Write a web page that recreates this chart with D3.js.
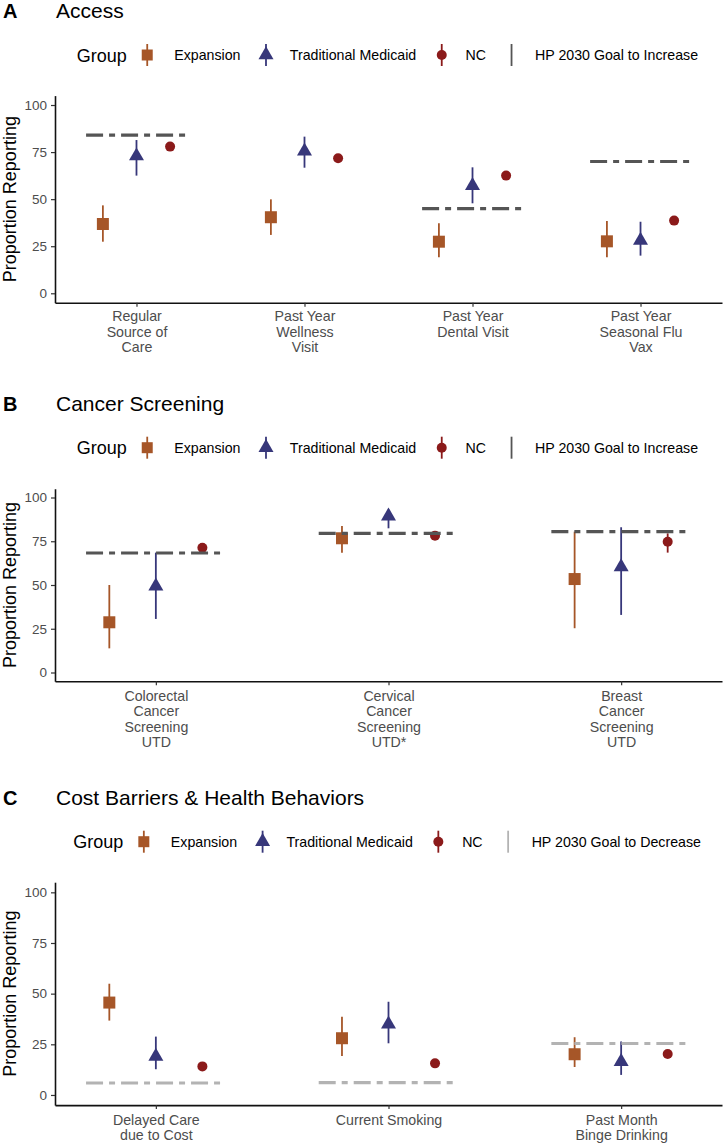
<!DOCTYPE html>
<html>
<head>
<meta charset="utf-8">
<script src="https://cdn.jsdelivr.net/npm/d3@7"></script>
<style>
  html, body { margin: 0; padding: 0; background: #ffffff; }
  svg { display: block; font-family: "Liberation Sans", Arial, Helvetica, sans-serif; }
</style>
</head>
<body>
<svg id="chart" width="723" height="1144"></svg>
<script>
// ---------------- DATA ----------------
const groups = ["Expansion", "Traditional Medicaid", "NC"];
const yTicks = [0, 25, 50, 75, 100];

// Panel A: Access
const accessCategories = ["Regular\nSource of\nCare", "Past Year\nWellness\nVisit", "Past Year\nDental Visit", "Past Year\nSeasonal Flu\nVax"];
const accessExpansion = [36.8, 40.4, 27.4, 27.6];
const accessExpansionLow = [27.4, 31.0, 19.1, 19.1];
const accessExpansionHigh = [46.7, 49.9, 37.2, 38.4];
const accessTraditional = [72.9, 75.5, 57.2, 28.1];
const accessTraditionalLow = [62.5, 66.7, 47.8, 20.0];
const accessTraditionalHigh = [81.4, 83.2, 66.9, 38.0];
const accessNC = [77.9, 71.7, 62.5, 38.6];
const accessNCLow = [76.6, 70.5, 61.3, 37.4];
const accessNCHigh = [79.2, 72.9, 63.7, 39.8];
const accessGoal = [84.0, null, 45.0, 70.0];

// Panel B: Cancer Screening
const cancerCategories = ["Colorectal\nCancer\nScreening\nUTD", "Cervical\nCancer\nScreening\nUTD*", "Breast\nCancer\nScreening\nUTD"];
const cancerExpansion = [28.7, 76.7, 53.4];
const cancerExpansionLow = [13.8, 68.5, 25.3];
const cancerExpansionHigh = [50.0, 83.7, 80.5];
const cancerTraditional = [49.4, 89.4, 60.4];
const cancerTraditionalLow = [30.6, 82.4, 32.9];
const cancerTraditionalHigh = [68.5, 93.0, 83.0];
const cancerNC = [71.3, 78.2, 74.7];
const cancerNCLow = [69.0, 77.0, 68.5];
const cancerNCHigh = [73.5, 79.4, 79.5];
const cancerGoal = [68.3, 79.5, 80.5];

// Panel C: Cost Barriers & Health Behaviors
const costCategories = ["Delayed Care\ndue to Cost", "Current Smoking", "Past Month\nBinge Drinking"];
const costExpansion = [45.6, 28.0, 20.1];
const costExpansionLow = [36.7, 19.2, 13.8];
const costExpansionHigh = [54.9, 38.6, 28.5];
const costTraditional = [19.0, 34.9, 16.4];
const costTraditionalLow = [12.7, 25.5, 9.9];
const costTraditionalHigh = [28.8, 46.0, 26.4];
const costNC = [14.1, 15.6, 20.2];
const costNCLow = [13.0, 14.6, 19.2];
const costNCHigh = [15.2, 16.6, 21.2];
const costGoal = [5.9, 6.1, 25.4];

// ---------------- STYLE ----------------
const groupColors = { "Expansion": "#A65628", "Traditional Medicaid": "#37377A", "NC": "#8B1A1A" };
const dodge = { "Expansion": -0.2, "Traditional Medicaid": 0, "NC": 0.2 };

const svg = d3.select("#chart");

function symbolPath(group, size) {
  if (group === "Expansion") {
    const h = size / 2;
    return `M${-h},${-h}H${h}V${h}H${-h}Z`;
  } else if (group === "Traditional Medicaid") {
    const s = size, hgt = s * Math.sqrt(3) / 2;
    return `M0,${-2 * hgt / 3}L${s / 2},${hgt / 3}L${-s / 2},${hgt / 3}Z`;
  } else {
    const r = size / 2;
    return `M${r},0A${r},${r} 0 1,1 ${-r},0A${r},${r} 0 1,1 ${r},0Z`;
  }
}
const markSize = { "Expansion": 12, "Traditional Medicaid": 15, "NC": 10 };

function drawPanel(p) {
  const g = svg.append("g");

  // Title
  g.append("text").attr("x", 3).attr("y", p.titleY)
    .attr("font-size", 20).attr("font-weight", "bold").attr("fill", "#000").text(p.letter);
  g.append("text").attr("x", 56).attr("y", p.titleY)
    .attr("font-size", 21).attr("fill", "#000").text(p.title);

  // Legend
  const lg = g.append("g");
  let cx = p.legendStart;
  const ly = p.legendY;
  const grpT = lg.append("text").attr("x", cx).attr("y", ly + 6.5).attr("font-size", 18).attr("fill", "#000").text("Group");
  cx += grpT.node().getComputedTextLength() + 20.5;
  groups.forEach((grp, i) => {
    const k = lg.append("g").attr("transform", `translate(${cx},${ly})`);
    k.append("line").attr("x1", 0).attr("x2", 0).attr("y1", -11).attr("y2", 11)
      .attr("stroke", groupColors[grp]).attr("stroke-width", 1.8);
    const ks = grp === "Expansion" ? 11 : (grp === "NC" ? 10 : 15);
    k.append("path").attr("d", symbolPath(grp, ks)).attr("fill", groupColors[grp]);
    cx += (i === 0 ? 27 : 23.8);
    const t = lg.append("text").attr("x", cx).attr("y", ly + 5).attr("font-size", 14.2).attr("fill", "#000").text(grp);
    cx += t.node().getComputedTextLength() + 25.5;
  });
  lg.append("line").attr("x1", cx).attr("x2", cx).attr("y1", ly - 11).attr("y2", ly + 11)
    .attr("stroke", p.goalColor).attr("stroke-width", 1.8);
  cx += 23.5;
  lg.append("text").attr("x", cx).attr("y", ly + 5).attr("font-size", 14.2).attr("fill", "#000").text(p.goalLabel);

  // Scales
  const x = d3.scalePoint().domain(p.categories).range([55, 722]).padding(p.pad);
  const step = x.step();
  const y = d3.scaleLinear().domain([-5, 105]).range([p.yBottom, p.yTop]);

  // Axes
  const yAxis = g.append("g").attr("transform", "translate(55,0)")
    .call(d3.axisLeft(y).tickValues(yTicks).tickSize(4).tickSizeOuter(0).tickPadding(4));
  yAxis.select(".domain").attr("stroke", "#111").attr("stroke-width", 1.6);
  yAxis.selectAll(".tick line").attr("stroke", "#333").attr("stroke-width", 1.2);
  yAxis.selectAll(".tick text").attr("font-size", 13.5).attr("fill", "#4d4d4d")
    .attr("font-family", "'Liberation Sans', Arial, sans-serif");

  const xAxis = g.append("g").attr("transform", `translate(0,${p.yBottom})`)
    .call(d3.axisBottom(x).tickSize(4).tickSizeOuter(0).tickPadding(4));
  xAxis.select(".domain").attr("stroke", "#111").attr("stroke-width", 1.6);
  xAxis.selectAll(".tick line").attr("stroke", "#333").attr("stroke-width", 1.2);
  xAxis.selectAll(".tick text").each(function (d) {
    const t = d3.select(this);
    t.text(null).attr("font-size", 14.2).attr("fill", "#4d4d4d")
      .attr("font-family", "'Liberation Sans', Arial, sans-serif").attr("dy", null).attr("y", 0);
    d.split("\n").forEach((line, i) => {
      t.append("tspan").attr("x", 0).attr("y", p.labelFirst + i * p.labelStep).text(line);
    });
  });

  // Y label
  g.append("text")
    .attr("transform", `translate(16,${(y(0) + y(100)) / 2}) rotate(-90)`)
    .attr("text-anchor", "middle").attr("font-size", 18).attr("fill", "#000")
    .text("Proportion Reporting");

  // Marks
  groups.forEach(grp => {
    const s = p.series[grp];
    const mg = g.append("g");
    p.categories.forEach((c, i) => {
      const px = x(c) + dodge[grp] * step;
      mg.append("line").attr("x1", px).attr("x2", px)
        .attr("y1", y(s.low[i])).attr("y2", y(s.high[i]))
        .attr("stroke", groupColors[grp]).attr("stroke-width", 1.8);
      mg.append("path").attr("transform", `translate(${px},${y(s.val[i])})`)
        .attr("d", symbolPath(grp, markSize[grp])).attr("fill", groupColors[grp]);
    });
  });

  // Goal lines
  p.categories.forEach((c, i) => {
    if (p.goal[i] == null) return;
    g.append("line")
      .attr("x1", x(c) - 0.3 * step).attr("x2", x(c) + 0.3 * step)
      .attr("y1", y(p.goal[i])).attr("y2", y(p.goal[i]))
      .attr("stroke", p.goalColor).attr("stroke-width", 3.2)
      .attr("stroke-dasharray", "17,6,6,6");
  });
}

const panels = [
  {
    letter: "A", title: "Access", titleY: 18, legendY: 55, legendStart: 76.7,
    categories: accessCategories, pad: 0.485, yTop: 95.6, yBottom: 302.7,
    labelFirst: 18.5, labelStep: 15.6,
    series: {
      "Expansion": { val: accessExpansion, low: accessExpansionLow, high: accessExpansionHigh },
      "Traditional Medicaid": { val: accessTraditional, low: accessTraditionalLow, high: accessTraditionalHigh },
      "NC": { val: accessNC, low: accessNCLow, high: accessNCHigh }
    },
    goal: accessGoal, goalColor: "#555555", goalLabel: "HP 2030 Goal to Increase"
  },
  {
    letter: "B", title: "Cancer Screening", titleY: 410.7, legendY: 447.7, legendStart: 76.7,
    categories: cancerCategories, pad: 0.4335, yTop: 488.75, yBottom: 681.25,
    labelFirst: 19.5, labelStep: 15.5,
    series: {
      "Expansion": { val: cancerExpansion, low: cancerExpansionLow, high: cancerExpansionHigh },
      "Traditional Medicaid": { val: cancerTraditional, low: cancerTraditionalLow, high: cancerTraditionalHigh },
      "NC": { val: cancerNC, low: cancerNCLow, high: cancerNCHigh }
    },
    goal: cancerGoal, goalColor: "#555555", goalLabel: "HP 2030 Goal to Increase"
  },
  {
    letter: "C", title: "Cost Barriers & Health Behaviors", titleY: 804.5, legendY: 841.7, legendStart: 73.3,
    categories: costCategories, pad: 0.4335, yTop: 882.2, yBottom: 1105.1,
    labelFirst: 20, labelStep: 14.8,
    series: {
      "Expansion": { val: costExpansion, low: costExpansionLow, high: costExpansionHigh },
      "Traditional Medicaid": { val: costTraditional, low: costTraditionalLow, high: costTraditionalHigh },
      "NC": { val: costNC, low: costNCLow, high: costNCHigh }
    },
    goal: costGoal, goalColor: "#b3b3b3", goalLabel: "HP 2030 Goal to Decrease"
  }
];

panels.forEach(drawPanel);
</script>
</body>
</html>
